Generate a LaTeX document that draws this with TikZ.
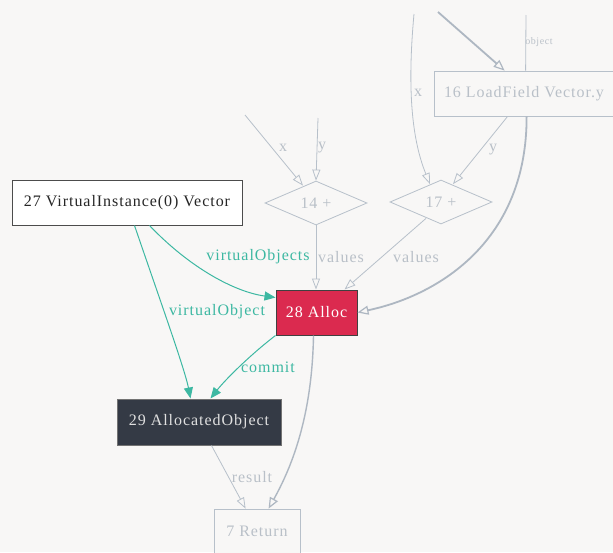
\documentclass[tikz,border=0pt]{standalone}
\usepackage{fontspec}
\setmainfont{Liberation Serif}[LetterSpace=6]
\usetikzlibrary{arrows.meta,shapes.geometric,calc}
\definecolor{bg}{HTML}{F8F7F6}
\definecolor{edgegray}{HTML}{B7C0CA}
\definecolor{thickgray}{HTML}{AEB7C2}
\definecolor{txtgray}{HTML}{B9C0C8}
\definecolor{teal}{HTML}{3DB8A2}
\definecolor{crim}{HTML}{DB2A4F}
\definecolor{darkn}{HTML}{343A45}
\begin{document}
\begin{tikzpicture}[x=1pt,y=-1pt,
  every node/.style={font=\fontsize{16}{18}\selectfont, inner sep=0pt},
  graybox/.style={draw=edgegray, fill=bg, text=txtgray, line width=0.8pt},
  graydiam/.style={shape=diamond, draw=edgegray, fill=bg, text=txtgray, line width=0.8pt, aspect=2.3},
  gedge/.style={draw=edgegray, line width=0.8pt, -{Triangle[open,length=11pt,width=8pt]}},
  gthick/.style={draw=thickgray, line width=1.8pt, -{Triangle[open,length=11pt,width=9pt,line width=1.2pt]}},
  tedge/.style={draw=teal, line width=1pt, -{Triangle[length=11pt,width=9pt]}},
  glbl/.style={text=txtgray},
  tlbl/.style={text=teal}]
\fill[bg] (0,0) rectangle (613,552);
\useasboundingbox (0,0) rectangle (613,552);

% nodes
\node[graybox, minimum width=180pt, minimum height=45pt] (n16) at (524,93.5) {16 LoadField Vector.y};
\node[graydiam, minimum width=102pt, minimum height=44pt] (n14) at (316,203) {14 +};
\node[graydiam, minimum width=102pt, minimum height=44pt] (n17) at (441,202) {17 +};
\node[draw=black!70, fill=white!98!bg, text=black!85, line width=1pt, minimum width=230pt, minimum height=45pt] (n27) at (127,202.5) {27 VirtualInstance(0) Vector};
\node[draw=black!75, fill=crim, text=white, line width=1pt, minimum width=81pt, minimum height=45pt] (n28) at (316.5,312.5) {28 Alloc};
\node[draw=black!55, fill=darkn, text=white!88!black, line width=1pt, minimum width=164pt, minimum height=46pt] (n29) at (199,422) {29 AllocatedObject};
\node[graybox, minimum width=86pt, minimum height=45pt] (n7) at (257,531.5) {7 Return};

% free ends
\coordinate (a1) at (414,14);
\coordinate (a2) at (438,12);
\coordinate (a3) at (526,15);
\coordinate (a4) at (245,115);
\coordinate (a5) at (318,118);

% edges
\draw[gedge] (a1) .. controls (407,90) and (412,140) .. ($(n17.north)+(-11,4.5)$);
\draw[gthick] (a2) -- ($(n16.north west)+(71,0)$);
\draw[draw=edgegray, line width=0.8pt] (a3) -- ($(n16.north west)+(92,0)$);
\draw[gthick] ($(n16.south west)+(93,0)$) .. controls (527,240) and (440,295) .. (n28.east);
\draw[gedge] ($(n16.south west)+(74,0)$) -- ($(n17.north)+(12,4.5)$);
\draw[gedge] (a4) -- ($(n14.north)+(-13,5)$);
\draw[gedge] (a5) -- (n14.north);
\draw[gedge] (n14.south) -- (n14.south |- n28.north);
\draw[gedge] ($(n17.south)+(-15,-6)$) -- ($(n28.north)+(28,0)$);
\draw[tedge] ($(n27.south west)+(138,0)$) .. controls (190,268) and (235,292) .. ($(n28.north west)+(0,8)$);
\draw[tedge] ($(n27.south west)+(123,0)$) .. controls (160,300) and (185,370) .. ($(n29.north west)+(74,0)$);
\draw[tedge] ($(n28.south west)+(0,0)$) .. controls (250,355) and (225,380) .. ($(n29.north west)+(94,0)$);
\draw[gedge] ($(n29.south west)+(95,0)$) -- ($(n7.north west)+(32,0)$);
\draw[gthick, line width=1.4pt] ($(n28.south west)+(38,0)$) .. controls (312,420) and (290,470) .. ($(n7.north west)+(55,0)$);

% labels
\node[glbl] (lx1) at (418,93) {x};
\node[glbl, font=\fontsize{10}{12}\selectfont] (lobj) at (539,42) {object};
\node[glbl] (ly1) at (493,150) {y};
\node[glbl] (lx2) at (283,148) {x};
\node[glbl] (ly2) at (322,148) {y};
\node[glbl] (lv1) at (341,257) {values};
\node[glbl] (lv2) at (416,257) {values};
\node[tlbl] (lvos) at (258,257) {virtualObjects};
\node[tlbl] (lvo) at (217,312) {virtualObject};
\node[tlbl] (lcm) at (268,367) {commit};
\node[glbl] (lres) at (252,477) {result};
\end{tikzpicture}
\end{document}
